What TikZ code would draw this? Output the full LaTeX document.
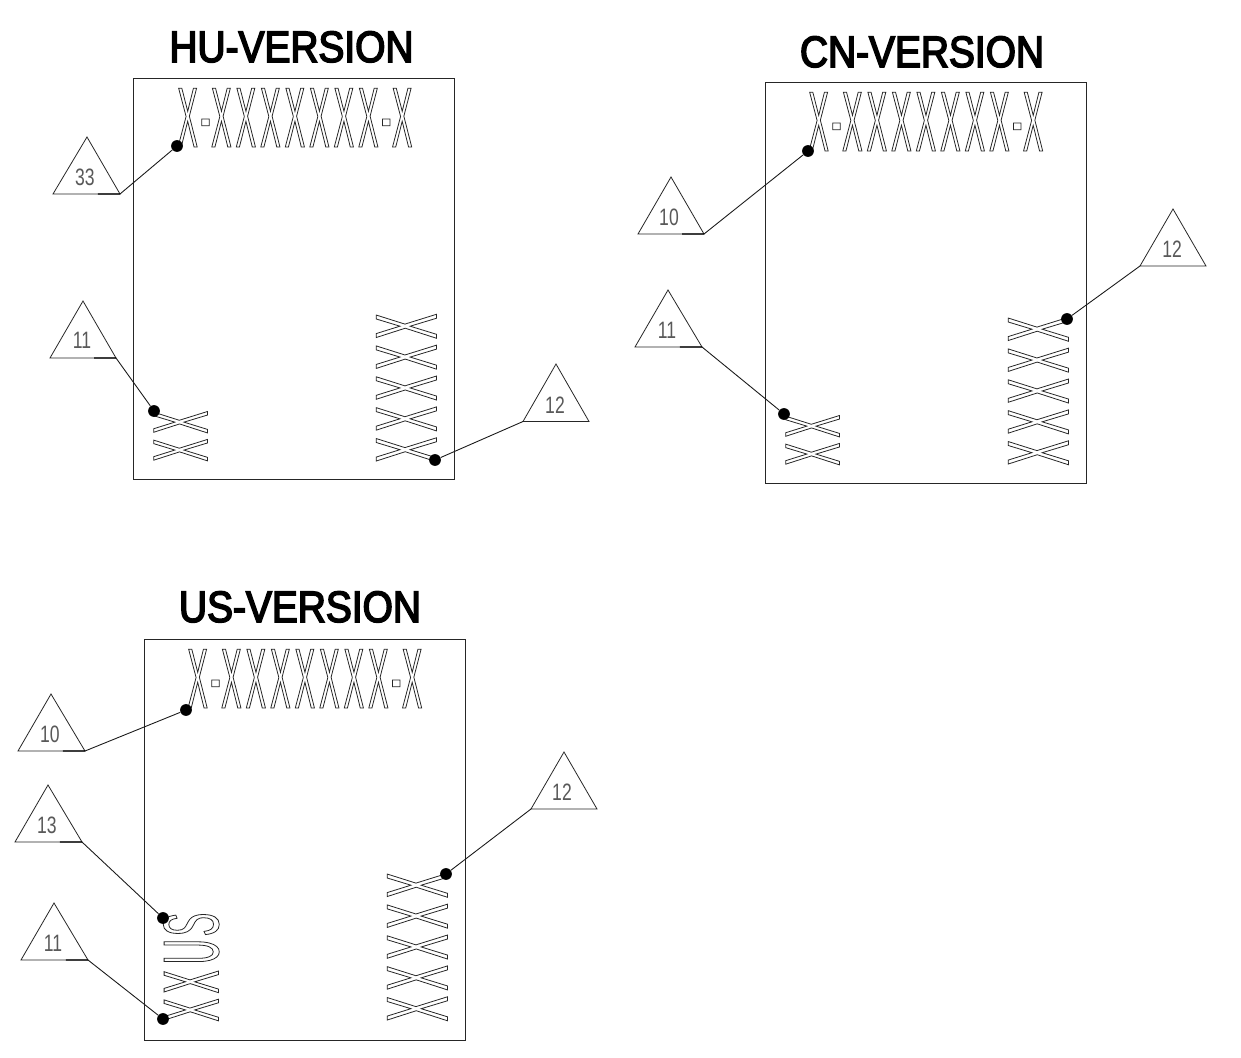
\documentclass[tikz,border=0pt]{standalone}
\usepackage{fontspec}
\usetikzlibrary{calc}
\setmainfont{Liberation Sans}
\newfontfamily\fTop[FakeStretch=.36]{Liberation Sans}
\newfontfamily\fSide[FakeStretch=.44]{Liberation Sans}
\newfontfamily\fTitle[FakeStretch=.885]{Liberation Sans}
\newfontfamily\fNum[FakeStretch=.74]{Liberation Sans}
\newdimen\pxu \pxu=0.02cm
\newcommand{\outl}[1]{\special{pdf:code 1 Tr 0.45 w}#1\special{pdf:code 0 Tr}}
\newcommand{\heavy}[1]{\special{pdf:code 2 Tr 0.9 w}#1\special{pdf:code 0 Tr}}
\newcommand{\gx}{\kern4\pxu}
\newcommand{\hy}{\kern2.5\pxu\raisebox{2\pxu}{-}\kern0.5\pxu}
\newcommand{\topstr}{\fontsize{48.6pt}{50pt}\fTop\outl{X\hy X\gx X\gx X\gx X\gx X\gx X\gx X\hy X}}
\newcommand{\gs}{\kern5.2\pxu}
\newcommand{\sidefive}{\fontsize{49.8pt}{50pt}\fSide\outl{X\gs X\gs X\gs X\gs X}}
\newcommand{\sidetwo}{\fontsize{44.5pt}{50pt}\fSide\outl{X\kern5\pxu X}}
\newcommand{\sideus}{\fontsize{45pt}{50pt}\fSide\outl{X\kern5\pxu X\kern6\pxu U\kern3\pxu S}}
\tikzset{
  px/.style={x=0.02cm,y=-0.02cm},
  frame/.style={draw=black!85,line width=0.55pt},
  tri/.style={draw=black!85,line width=0.45pt,line join=miter},
  lead/.style={draw=black!90,line width=0.5pt},
  dotn/.style={circle,fill=black,inner sep=0pt,minimum size=6.7pt},
  marktext/.style={inner sep=0pt,anchor=base west,text=black!85},
  numl/.style={inner sep=0pt,text=black!65,font=\fontsize{13.5pt}{15pt}\fNum},
  titl/.style={inner sep=0pt,anchor=base,text=black,font=\fontsize{25pt}{28pt}\fTitle},
}
% triangle with its label
\newcommand{\plainflag}[6]{%
  \coordinate (#1a) at (#2);
  \coordinate (#1l) at (#3);
  \coordinate (#1r) at (#4);
  \draw[tri] (#1a) -- (#1l) -- (#1r) -- cycle;
  \node[numl] (#1t) at (#6) {#5};
}
% same, with the darker stretch at the right end of the base
\newcommand{\flag}[6]{%
  \plainflag{#1}{#2}{#3}{#4}{#5}{#6}
  \draw[line width=0.6pt,black] ($(#1l)!0.67!(#1r)$) -- (#1r);
}
\begin{document}
\begin{tikzpicture}[px]
\useasboundingbox (0,0) rectangle (1241,1058);
\fill[white] (0,0) rectangle (1241,1058);
% HU
\node[titl] (titleHU) at (291.5,62) {\heavy{HU-VERSION}};
\draw[frame] (133.5,78.7) rectangle (454.7,479.7);
\node[marktext] (topHU) at (177,147) {\topstr};
\node[marktext,rotate=90] (sideHU) at (436.5,463) {\sidefive};
\node[marktext,rotate=90] (twoHU) at (207.5,462) {\sidetwo};
\flag{ha}{87,137}{53,194}{120,194}{33}{85,177}
\flag{hb}{83,301}{50,358}{116,358}{11}{82,340}
\plainflag{hc}{556,364}{523,421.5}{589,421.5}{12}{555,405}
\node[dotn] (hda) at (177,146) {};
\node[dotn] (hdb) at (154,411) {};
\node[dotn] (hdc) at (435,460) {};
\draw[lead] (har) -- (hda);
\draw[lead] (hbr) -- (hdb);
\draw[lead] (hcl) -- (hdc);
% CN
\node[titl] (titleCN) at (922,67) {\heavy{CN-VERSION}};
\draw[frame] (765.5,82.7) rectangle (1086,483.7);
\node[marktext] (topCN) at (808,151) {\topstr};
\node[marktext,rotate=90] (sideCN) at (1068.5,466) {\sidefive};
\node[marktext,rotate=90] (twoCN) at (839.5,466) {\sidetwo};
\flag{ca}{671,177}{638,234}{704,234}{10}{669,217}
\flag{cb}{668,290}{635,347}{702,347}{11}{667,330}
\plainflag{cc}{1173,209}{1140,266}{1206,266}{12}{1172,249}
\node[dotn] (cda) at (808,151) {};
\node[dotn] (cdb) at (784,414) {};
\node[dotn] (cdc) at (1067,319) {};
\draw[lead] (car) -- (cda);
\draw[lead] (cbr) -- (cdb);
\draw[lead] (ccl) -- (cdc);
% US
\node[titl] (titleUS) at (300,622) {\heavy{US-VERSION}};
\draw[frame] (144,639.7) rectangle (465.7,1040.7);
\node[marktext] (topUS) at (187,708) {\topstr};
\node[marktext,rotate=90] (sideUS) at (447.5,1022) {\sidefive};
\node[marktext,rotate=90] (twoUS) at (218.5,1022) {\sideus};
\flag{ua}{51,694}{18,751}{85,751}{10}{50,734}
\flag{ub}{48,785}{15,842}{82,842}{13}{47,825}
\flag{uc}{54,903}{21,960}{88,960}{11}{53,943}
\plainflag{ud}{564,752}{531,809}{597,809}{12}{562,792}
\node[dotn] (uda) at (186,710) {};
\node[dotn] (udb) at (163,918) {};
\node[dotn] (udc) at (163,1019) {};
\node[dotn] (udd) at (446,874) {};
\draw[lead] (uar) -- (uda);
\draw[lead] (ubr) -- (udb);
\draw[lead] (ucr) -- (udc);
\draw[lead] (udl) -- (udd);
\end{tikzpicture}
\end{document}
